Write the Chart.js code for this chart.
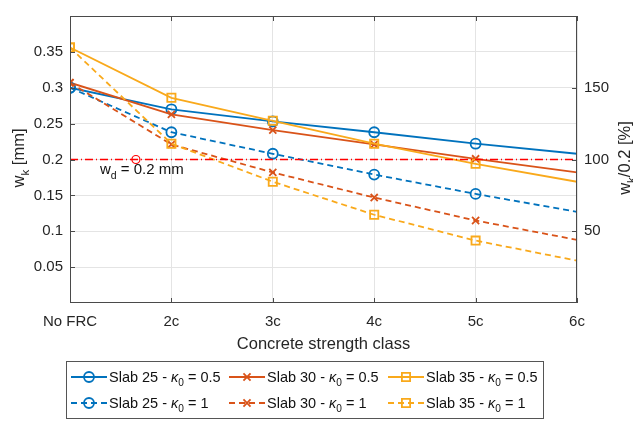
<!DOCTYPE html>
<html lang="en">
<head>
    <meta charset="UTF-8">
    <title>Crack width vs concrete strength class</title>
    <script src="https://cdn.jsdelivr.net/npm/chart.js"></script>
    <style>
        body { margin: 0; background: #fff; }
    </style>
</head>
<body>
    <canvas id="crackChart" width="633" height="422"></canvas>
    <script>
// categories on the x axis
const categories = ['No FRC', '2c', '3c', '4c', '5c', '6c'];

// crack width w_k [mm] for each slab thickness and kappa_0
const slab25k05 = [0.300, 0.270, 0.253, 0.238, 0.222, 0.208];
const slab30k05 = [0.307, 0.263, 0.241, 0.221, 0.201, 0.182];
const slab35k05 = [0.356, 0.286, 0.254, 0.222, 0.194, 0.169];
const slab25k1  = [0.300, 0.238, 0.208, 0.179, 0.152, 0.127];
const slab30k1  = [0.307, 0.221, 0.182, 0.147, 0.115, 0.088];
const slab35k1  = [0.356, 0.222, 0.169, 0.123, 0.087, 0.059];

// design limit w_d and where its marker sits
const wd = 0.2;
const wdMarkerX = 0.65;

// tick labels
const leftTicks = [0.05, 0.1, 0.15, 0.2, 0.25, 0.3, 0.35];
const rightTicks = [50, 100, 150];

const FAM = '"Liberation Sans", Arial, Helvetica, sans-serif';
const BLUE = '#0072BD', RED = '#D95319', YELLOW = '#F9A91B', LIMIT = '#FF0000';

// draws text with subscripts / italics, y = baseline
function richText(ctx, parts, x, y, size, align) {
  const fontOf = p => p[1] === 'sub' ? (size * 0.7) + 'px ' + FAM
                    : p[1] === 'it' ? 'italic ' + size + 'px ' + FAM
                    : size + 'px ' + FAM;
  let total = 0;
  const widths = parts.map(p => { ctx.font = fontOf(p); const w = ctx.measureText(p[0]).width; total += w; return w; });
  let cx = align === 'center' ? x - total / 2 : x;
  ctx.textAlign = 'left';
  ctx.textBaseline = 'alphabetic';
  parts.forEach((p, i) => {
    ctx.font = fontOf(p);
    ctx.fillText(p[0], cx, y + (p[1] === 'sub' ? size * 0.3 : 0));
    cx += widths[i];
  });
}

function makeSet(label, vals, color, style, radius, dashed) {
  return {
    label: label,
    data: vals.map((v, i) => ({ x: i, y: v })),
    borderColor: color,
    backgroundColor: 'rgba(0,0,0,0)',
    borderWidth: 1.8,
    borderDash: dashed ? [6, 4] : [],
    pointStyle: style,
    // no marker on the last point (6c)
    pointRadius: vals.map((v, i) => i === vals.length - 1 ? 0 : radius),
    pointBorderWidth: 1.8,
    pointBorderColor: color,
    pointBackgroundColor: 'rgba(0,0,0,0)',
    tension: 0,
    yAxisID: 'y'
  };
}

const series = [
  { name: ['Slab 25 - ', '0.5'], vals: slab25k05, color: BLUE,   style: 'circle',   r: 5,   dashed: false },
  { name: ['Slab 30 - ', '0.5'], vals: slab30k05, color: RED,    style: 'crossRot', r: 5,   dashed: false },
  { name: ['Slab 35 - ', '0.5'], vals: slab35k05, color: YELLOW, style: 'rect',     r: 5.8, dashed: false },
  { name: ['Slab 25 - ', '1'],   vals: slab25k1,  color: BLUE,   style: 'circle',   r: 5,   dashed: true },
  { name: ['Slab 30 - ', '1'],   vals: slab30k1,  color: RED,    style: 'crossRot', r: 5,   dashed: true },
  { name: ['Slab 35 - ', '1'],   vals: slab35k1,  color: YELLOW, style: 'rect',     r: 5.8, dashed: true }
];

const datasets = [
  {
    label: 'w_d line',
    data: [{ x: 0, y: wd }, { x: categories.length - 1, y: wd }],
    borderColor: LIMIT,
    borderWidth: 1.5,
    borderDash: [8, 3, 1, 3],
    pointRadius: 0,
    yAxisID: 'y'
  },
  {
    label: 'w_d marker',
    data: [{ x: wdMarkerX, y: wd }],
    showLine: false,
    borderColor: LIMIT,
    pointBorderColor: LIMIT,
    backgroundColor: 'rgba(0,0,0,0)',
    pointBackgroundColor: 'rgba(0,0,0,0)',
    pointStyle: 'circle',
    pointRadius: 4,
    pointBorderWidth: 1.2,
    yAxisID: 'y'
  }
].concat(series.slice().reverse().map(s => makeSet(s.name.join(''), s.vals, s.color, s.style, s.r, s.dashed)));

// box, inward ticks, titles, annotation and legend
const decorations = {
  id: 'decorations',
  afterDraw(chart) {
    const ctx = chart.ctx;
    const a = chart.chartArea;
    const x = chart.scales.x, y = chart.scales.y, y2 = chart.scales.y2;
    ctx.save();
    ctx.strokeStyle = '#4a4a4a';
    ctx.lineWidth = 1;
    ctx.setLineDash([]);
    ctx.strokeRect(Math.round(a.left) + 0.5, Math.round(a.top) + 0.5, Math.round(a.right - a.left) - 1, Math.round(a.bottom - a.top) - 1);
    ctx.beginPath();
    for (let i = 0; i < categories.length; i++) {
      const px = Math.round(x.getPixelForValue(i)) + 0.5;
      ctx.moveTo(px, a.bottom); ctx.lineTo(px, a.bottom - 5);
      ctx.moveTo(px, a.top); ctx.lineTo(px, a.top + 5);
    }
    leftTicks.forEach(v => {
      const py = Math.round(y.getPixelForValue(v)) + 0.5;
      ctx.moveTo(a.left, py); ctx.lineTo(a.left + 5, py);
    });
    rightTicks.forEach(v => {
      const py = Math.round(y2.getPixelForValue(v)) + 0.5;
      ctx.moveTo(a.right, py); ctx.lineTo(a.right - 5, py);
    });
    ctx.stroke();

    ctx.fillStyle = '#262626';
    // x title
    richText(ctx, [['Concrete strength class', '']], (a.left + a.right) / 2, 349, 16.5, 'center');
    // y titles
    ctx.save();
    ctx.translate(18, 158);
    ctx.rotate(-Math.PI / 2);
    richText(ctx, [['w', ''], ['k', 'sub'], [' [mm]', '']], 0, 16.5 * 0.35, 16.5, 'center');
    ctx.restore();
    ctx.save();
    ctx.translate(624, 158);
    ctx.rotate(-Math.PI / 2);
    richText(ctx, [['w', ''], ['k', 'sub'], ['/0.2 [%]', '']], 0, 16.5 * 0.35, 16.5, 'center');
    ctx.restore();

    // annotation
    ctx.fillStyle = '#111';
    richText(ctx, [['w', ''], ['d', 'sub'], [' = 0.2 mm', '']], 100, 174, 15, 'left');

    // legend
    const box = { left: 66, top: 361, width: 477, height: 57 };
    ctx.fillStyle = '#fff';
    ctx.fillRect(box.left, box.top, box.width, box.height);
    ctx.strokeStyle = '#555';
    ctx.lineWidth = 1;
    ctx.strokeRect(box.left + 0.5, box.top + 0.5, box.width, box.height);
    const colX = [71, 229, 388];
    const rowY = [377, 403];
    series.forEach((s, i) => {
      const cx = colX[i % 3], cy = rowY[Math.floor(i / 3)];
      ctx.strokeStyle = s.color;
      ctx.lineWidth = 1.8;
      ctx.setLineDash(s.dashed ? [6, 4] : []);
      ctx.beginPath();
      ctx.moveTo(cx, cy); ctx.lineTo(cx + 36, cy);
      ctx.stroke();
      ctx.setLineDash([]);
      ctx.fillStyle = 'rgba(0,0,0,0)';
      Chart.helpers.drawPoint(ctx, { pointStyle: s.style, radius: s.r, rotation: 0, borderWidth: 1.8 }, cx + 18, cy);
      ctx.fillStyle = '#111';
      richText(ctx, [[s.name[0], ''], ['\u03BA', 'it'], ['0', 'sub'], [' = ' + s.name[1], '']], cx + 38, cy + 5, 14.5, 'left');
    });
    ctx.restore();
  }
};

const fmt = v => parseFloat(v.toFixed(2)).toString();

new Chart(document.getElementById('crackChart'), {
  type: 'line',
  data: { datasets: datasets },
  options: {
    responsive: false,
    animation: false,
    layout: { padding: { top: 9, left: 0, right: 0, bottom: 0 } },
    plugins: { legend: { display: false }, tooltip: { enabled: false } },
    scales: {
      x: {
        type: 'linear',
        min: 0,
        max: categories.length - 1,
        afterFit: s => { s.height = 119; },
        afterBuildTicks: s => { s.ticks = categories.map((c, i) => ({ value: i })); },
        ticks: {
          callback: v => categories[v],
          font: { family: FAM, size: 15 },
          color: '#262626',
          padding: 10,
          maxRotation: 0
        },
        grid: { color: '#e4e4e4', drawTicks: false },
        border: { display: false }
      },
      y: {
        position: 'left',
        min: 0,
        max: 0.4,
        afterFit: s => { s.width = 70; },
        afterBuildTicks: s => { s.ticks = leftTicks.map(v => ({ value: v })); },
        ticks: {
          callback: v => fmt(v),
          font: { family: FAM, size: 15 },
          color: '#262626',
          padding: 7
        },
        grid: { color: '#e4e4e4', drawTicks: false },
        border: { display: false }
      },
      y2: {
        position: 'right',
        min: 0,
        max: 200,
        afterFit: s => { s.width = 56; },
        afterBuildTicks: s => { s.ticks = rightTicks.map(v => ({ value: v })); },
        ticks: {
          font: { family: FAM, size: 15 },
          color: '#262626',
          padding: 7
        },
        grid: { display: false, drawTicks: false },
        border: { display: false }
      }
    }
  },
  plugins: [decorations]
});
    </script>
</body>
</html>
